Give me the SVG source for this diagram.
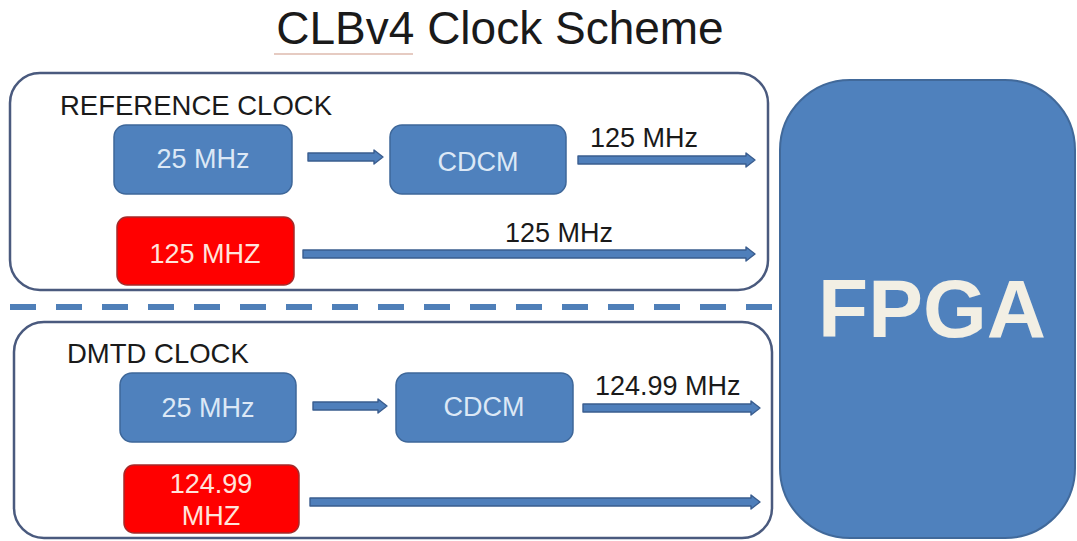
<svg xmlns="http://www.w3.org/2000/svg" width="1077" height="541" viewBox="0 0 1077 541">
  <style>
    text { font-family: "Liberation Sans", Arial, sans-serif; }
    .title { font-size: 46px; fill: #1a1a1a; text-anchor: middle; }
    .section { font-size: 27.5px; fill: #1a1a1a; }
    .group { fill: #ffffff; stroke: #4a5a7e; stroke-width: 2.5; }
    .blk { fill: #4f81bd; stroke: #3e6799; stroke-width: 1.5; }
    .red { fill: #ff0000; stroke: #a52a2a; stroke-width: 1.5; }
    .blk-txt { font-size: 27px; fill: #dce8f6; text-anchor: middle; }
    .red-txt { font-size: 27px; fill: #ffe4dc; text-anchor: middle; }
    .lbl { font-size: 27px; fill: #1a1a1a; }
    .arrow { fill: #4f7fbb; stroke: #3a5d8f; stroke-width: 1.4; stroke-linejoin: round; }
    .sep { stroke: #4f7fb8; stroke-width: 6; stroke-dasharray: 26 20; fill: none; }
    .fpga { fill: #4f81bd; stroke: #41699a; stroke-width: 2; }
    .fpga-txt { font-size: 82px; font-weight: bold; fill: #f2efe4; text-anchor: middle; }
  </style>

  <rect width="1077" height="541" fill="#ffffff"/>

  <!-- heading -->
  <text class="title" x="500" y="44">CLBv4 Clock Scheme</text>
  <line x1="274" y1="54" x2="413" y2="54" stroke="#e6cbc2" stroke-width="2"/>

  <!-- reference clock section -->
  <g id="ref-section">
    <rect class="group" x="10" y="73" width="758" height="217" rx="30"/>
    <text class="section" x="60" y="115">REFERENCE CLOCK</text>
  </g>
  <g id="ref-osc25">
    <rect class="blk" x="114" y="125" width="178" height="69" rx="12"/>
    <text class="blk-txt" x="203" y="168">25 MHz</text>
  </g>
  <g id="ref-cdcm">
    <rect class="blk" x="390" y="125" width="176" height="69" rx="12"/>
    <text class="blk-txt" x="478" y="171">CDCM</text>
  </g>
  <g id="ref-osc125">
    <rect class="red" x="117" y="217" width="177" height="68" rx="10"/>
    <text class="red-txt" x="205" y="263">125 MHZ</text>
  </g>

  <!-- separator -->
  <line class="sep" x1="10" y1="307" x2="778" y2="307"/>

  <!-- DMTD clock section -->
  <g id="dmtd-section">
    <rect class="group" x="14" y="322" width="758" height="216" rx="30"/>
    <text class="section" x="67" y="363">DMTD CLOCK</text>
  </g>
  <g id="dmtd-osc25">
    <rect class="blk" x="120" y="373" width="176" height="69" rx="12"/>
    <text class="blk-txt" x="208" y="417">25 MHz</text>
  </g>
  <g id="dmtd-cdcm">
    <rect class="blk" x="396" y="373" width="177" height="69" rx="12"/>
    <text class="blk-txt" x="484" y="416">CDCM</text>
  </g>
  <g id="dmtd-osc12499">
    <rect class="red" x="124" y="465" width="175" height="68" rx="10"/>
    <text class="red-txt" x="211" y="493">124.99</text>
    <text class="red-txt" x="211" y="525">MHZ</text>
  </g>

  <!-- FPGA -->
  <g id="fpga">
    <rect class="fpga" x="780" y="80" width="295" height="458" rx="70"/>
    <text class="fpga-txt" x="932" y="337">FPGA</text>
  </g>

  <!-- clock paths -->
  <g id="connectors">
    <path class="arrow" d="M308,153 H374 V150 L383,157 L374,164 V161 H308 Z"/>
    <path class="arrow" d="M578,156 H746 V153 L755,160 L746,167 V164 H578 Z"/>
    <text class="lbl" x="590" y="147">125 MHz</text>
    <path class="arrow" d="M303,250 H746 V247 L755,254 L746,261 V258 H303 Z"/>
    <text class="lbl" x="505" y="242">125 MHz</text>

    <path class="arrow" d="M313,402 H378 V399 L387,406 L378,413 V410 H313 Z"/>
    <path class="arrow" d="M583,404 H751 V401 L760,408 L751,415 V412 H583 Z"/>
    <text class="lbl" x="595" y="395">124.99 MHz</text>
    <path class="arrow" d="M310,498 H751 V495 L760,502 L751,509 V506 H310 Z"/>
  </g>
</svg>
